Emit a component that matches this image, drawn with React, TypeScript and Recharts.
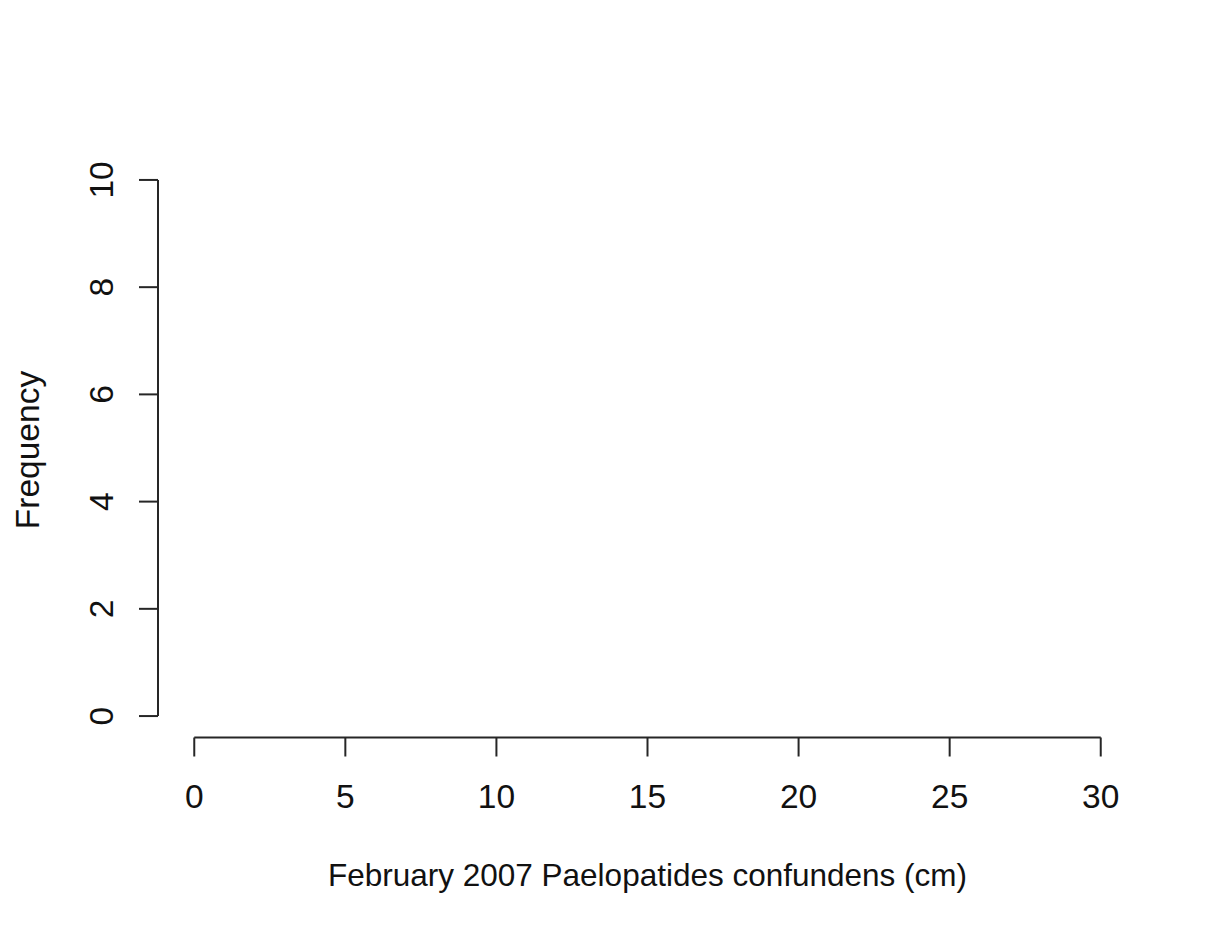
import React from 'react';
import { ComposedChart, XAxis, YAxis, ReferenceLine, Bar, Label } from 'recharts';

const FONT = '"Liberation Sans", Arial, sans-serif';
const INK = '#111';
const LINE = '#262626';

// Histogram bins (cm) and their counts: the reference shows no bars.
const lengthBins: number[] = [];
const frequencies: number[] = [];

const xTicks = [0, 5, 10, 15, 20, 25, 30];
const yTicks = [0, 2, 4, 6, 8, 10];
const xTitle = 'February 2007 Paelopatides confundens (cm)';
const yTitle = 'Frequency';

const data = lengthBins.map((bin, i) => ({ bin, count: frequencies[i] }));

const XTick = (props: any) => {
  const { x, y, payload } = props;
  return (
    <text x={x} y={y + 51} textAnchor="middle" fontSize={33.5} fontFamily={FONT} fill={INK}>
      {payload.value}
    </text>
  );
};

const YTick = (props: any) => {
  const { x, y, payload } = props;
  const bx = x - 26;
  return (
    <text
      x={bx}
      y={y}
      transform={`rotate(-90, ${bx}, ${y})`}
      textAnchor="middle"
      fontSize={33.5}
      fontFamily={FONT}
      fill={INK}
    >
      {payload.value}
    </text>
  );
};

const XTitle = (props: any) => {
  const vb = props.viewBox || {};
  const cx = vb.x + vb.width / 2;
  const by = vb.y + 148;
  return (
    <text x={cx} y={by} textAnchor="middle" fontSize={31.5} fontFamily={FONT} fill={INK}>
      {xTitle}
    </text>
  );
};

const YTitle = (props: any) => {
  const vb = props.viewBox || {};
  const bx = vb.x + 39;
  const cy = vb.y + vb.height / 2 + 2;
  return (
    <text
      x={bx}
      y={cy}
      transform={`rotate(-90, ${bx}, ${cy})`}
      textAnchor="middle"
      fontSize={33.5}
      fontFamily={FONT}
      fill={INK}
    >
      {yTitle}
    </text>
  );
};

export default function App() {
  return (
    <div style={{ position: 'absolute', left: 0, top: 0, width: 1220, height: 934, background: '#fff' }}>
      <ComposedChart
        width={1220}
        height={934}
        data={data}
        margin={{ top: 158.5, right: 83, bottom: 0, left: 0 }}
      >
        <XAxis
          dataKey="bin"
          type="number"
          domain={[-1.2, 31.2]}
          ticks={xTicks}
          interval={0}
          allowDataOverflow
          axisLine={false}
          tickLine={{ stroke: LINE, strokeWidth: 2 }}
          tickSize={19}
          tickMargin={0}
          height={196.5}
          tick={<XTick />}
        >
          <Label content={<XTitle />} />
        </XAxis>
        <YAxis
          type="number"
          domain={[-0.4, 10.4]}
          ticks={yTicks}
          interval={0}
          allowDataOverflow
          axisLine={false}
          tickLine={{ stroke: LINE, strokeWidth: 2 }}
          tickSize={19}
          tickMargin={0}
          width={158}
          tick={<YTick />}
        >
          <Label content={<YTitle />} />
        </YAxis>
        <Bar dataKey="count" fill="#fff" stroke={LINE} isAnimationActive={false} />
        <ReferenceLine
          segment={[{ x: xTicks[0], y: -0.4 }, { x: xTicks[xTicks.length - 1], y: -0.4 }]}
          stroke={LINE}
          strokeWidth={2}
          ifOverflow="visible"
        />
        <ReferenceLine
          segment={[{ x: -1.2, y: yTicks[0] }, { x: -1.2, y: yTicks[yTicks.length - 1] }]}
          stroke={LINE}
          strokeWidth={2}
          ifOverflow="visible"
        />
      </ComposedChart>
    </div>
  );
}
